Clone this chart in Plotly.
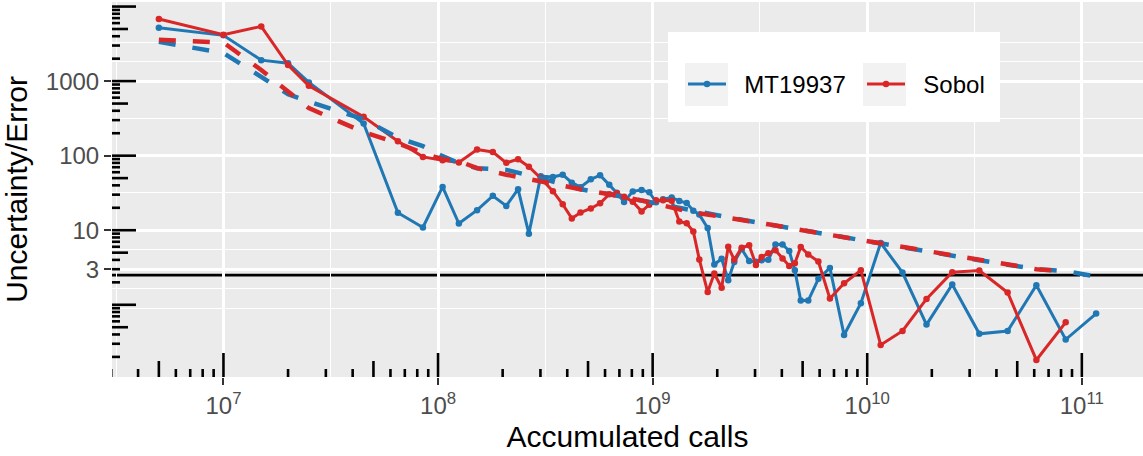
import numpy as np
import plotly.graph_objects as go

# accumulated calls at every iteration (shared by both generators)
calls = [5.0e6, 1.0e7, 1.5e7, 2.0e7, 2.5e7, 4.5e7, 6.5e7, 8.5e7, 1.05e8, 1.25e8,
         1.52e8, 1.8e8, 2.08e8, 2.36e8, 2.65e8, 3.01e8, 3.43e8, 3.81e8, 4.2e8, 4.61e8,
         5.15e8, 5.69e8, 6.28e8, 6.81e8, 7.36e8, 8.08e8, 8.88e8, 9.65e8, 1.037e9, 1.118e9,
         1.227e9, 1.331e9, 1.441e9, 1.547e9, 1.65e9, 1.805e9, 1.938e9, 2.097e9, 2.25e9, 2.4e9,
         2.6e9, 2.817e9, 3.03e9, 3.22e9, 3.46e9, 3.735e9, 4.03e9, 4.33e9, 4.6e9, 4.9e9,
         5.31e9, 5.92e9, 6.7e9, 7.8e9, 9.34e9, 1.155e10, 1.46e10, 1.889e10, 2.49e10, 3.33e10,
         4.51e10, 6.14e10, 8.41e10, 1.166e11]

mt19937 = [5190, 4110, 1910, 1740, 960, 270, 17.2, 10.9, 38.1, 12.3,
           18.6, 28.9, 21.2, 35.5, 9.0, 53.1, 51.9, 55.6, 43.4, 37.8,
           48.1, 54.7, 40.6, 31.7, 24.0, 33.2, 34.7, 32.4, 23.8, 26.1,
           27.5, 24.7, 23.2, 18.3, 16.2, 10.7, 3.47, 4.14, 2.13, 3.75,
           5.59, 3.86, 3.78, 3.96, 4.02, 6.43, 6.43, 5.26, 2.90, 1.14,
           1.14, 2.23, 3.12, 0.393, 1.05, 6.75, 2.71, 0.542, 1.87, 0.408,
           0.444, 1.83, 0.342, 0.762]

sobol = [6800, 4180, 5420, 1640, 865, 332, 156, 96.3, 87.0, 81.0,
         121, 112, 80.1, 89.8, 71.2, 49.9, 33.4, 22.3, 14.4, 17.3,
         19.6, 23.0, 30.4, 31.4, 28.2, 24.1, 17.9, 22.0, 25.3, 25.3,
         24.9, 13.1, 12.4, 9.63, 4.06, 1.48, 2.63, 1.69, 6.00, 4.02,
         5.82, 6.29, 3.43, 4.38, 4.91, 5.39, 4.17, 3.32, 3.61, 5.97,
         4.73, 3.80, 1.21, 1.94, 2.90, 0.289, 0.445, 1.20, 2.73, 2.88,
         1.46, 0.182, 0.582]

# expected-convergence curves (dashed)
trend_calls = [5e6, 1e7, 1.5e7, 2e7, 2.5e7, 4.5e7, 6.5e7, 8.5e7, 1.05e8, 1.25e8,
               1.52e8, 2.08e8, 3.01e8, 4.61e8, 6.28e8, 9.65e8, 1.441e9, 2.25e9, 3.46e9, 5.31e9,
               7.8e9, 1.155e10, 1.889e10, 3.33e10, 6.14e10, 8.41e10, 1.166e11]
mt19937_trend = [3370, 2380, 1140, 669, 529, 309, 174, 134, 98.4, 79.3,
                 68.0, 64.5, 49.9, 35.5, 30.4, 23.8, 18.6, 14.9, 12.0, 9.69,
                 8.05, 6.69, 5.14, 3.96, 3.0, 2.82, 2.4]
sobol_trend = [3600, 3290, 1410, 734, 434, 207, 147, 108, 89.8, 84.4,
               68.0, 55.6, 44.8, 35.5, 30.4, 23.8, 18.0, 14.9, 12.0, 9.69,
               8.05, 6.69, 5.14, 3.96, 3.0, 2.82]

target = 2.5

y_breaks = [3, 10, 100, 1000]
y_labels = ['3', '10', '100', '1000']
x_breaks = [1e7, 1e8, 1e9, 1e10, 1e11]
x_labels = ['10<sup>7</sup>', '10<sup>8</sup>', '10<sup>9</sup>', '10<sup>10</sup>', '10<sup>11</sup>']

colors = {
    'mt': '#1F77B4',
    'sobol': '#D92728',
    'panel': '#EBEBEB',
    'key': '#F2F2F2',
    'tick': '#333333',
    'ticktext': '#4D4D4D',
}
FONT = 'Liberation Sans, Arial, sans-serif'

W, H = 1143, 456
margin = dict(l=112, r=0, t=2, b=79)
pw = W - margin['l'] - margin['r']
ph = H - margin['t'] - margin['b']


def expanded(vals, mult=0.05):
    lo, hi = np.log10(min(vals)), np.log10(max(vals))
    pad = (hi - lo) * mult
    return [lo - pad, hi + pad]


x_range = expanded(calls)
y_range = expanded(mt19937 + sobol)


def minor_breaks(major_logs, lim):
    # ggplot's regular_minor_breaks in log space
    b = list(major_logs)
    bd = b[1] - b[0]
    if lim[0] < b[0]:
        b = [b[0] - bd] + b
    if lim[1] > b[-1]:
        b = b + [b[-1] + bd]
    out = []
    for a, c in zip(b[:-1], b[1:]):
        out += [a, (a + c) / 2]
    out.append(b[-1])
    out = [v for v in out if lim[0] <= v <= lim[1] and min(abs(v - m) for m in major_logs) > 1e-6]
    return [10 ** v for v in out]


y_minor = minor_breaks(np.log10(y_breaks), y_range)
x_minor = minor_breaks(np.log10(x_breaks), x_range)

pad = '\u00a0\u00a0'  # nudges legend text away from the key, as in ggplot

fig = go.Figure()
fig.add_trace(go.Scatter(x=calls, y=mt19937, mode='lines+markers', name=pad + 'MT19937',
                         line=dict(color=colors['mt'], width=3),
                         marker=dict(color=colors['mt'], size=6.5)))
fig.add_trace(go.Scatter(x=calls[:len(sobol)], y=sobol, mode='lines+markers', name=pad + 'Sobol',
                         line=dict(color=colors['sobol'], width=3),
                         marker=dict(color=colors['sobol'], size=6.5)))
fig.add_trace(go.Scatter(x=trend_calls, y=mt19937_trend, mode='lines', showlegend=False,
                         line=dict(color=colors['mt'], width=4.5, dash='17px,17px')))
fig.add_trace(go.Scatter(x=trend_calls[:len(sobol_trend)], y=sobol_trend, mode='lines',
                         showlegend=False,
                         line=dict(color=colors['sobol'], width=4.5, dash='17px,17px')))

shapes = [dict(type='line', xref='paper', x0=0, x1=1, yref='y', y0=target, y1=target,
               line=dict(color='black', width=2.6), layer='between')]

# annotation_logticks on left and bottom
for e in range(-3, 13):
    for m in range(1, 10):
        v = m * 10 ** e
        L = 24 if m == 1 else (16 if m == 5 else 8)
        lv = np.log10(v)
        if y_range[0] <= lv <= y_range[1]:
            shapes.append(dict(type='line', xref='x domain', x0=0, x1=L / pw, yref='y', y0=v, y1=v,
                               line=dict(color='black', width=2.6), layer='above'))
        if x_range[0] - 0.02 <= lv <= x_range[1]:
            shapes.append(dict(type='line', xref='x', x0=v, x1=v, yref='y domain', y0=0, y1=L / ph,
                               line=dict(color='black', width=2.6), layer='above'))


def px_x(p):
    return (p - margin['l']) / pw


def px_y(p):
    return (H - margin['b'] - p) / ph


# legend box and key backgrounds
shapes.append(dict(type='rect', xref='paper', yref='paper', x0=px_x(668), x1=px_x(1000),
                   y0=px_y(122), y1=px_y(32), fillcolor='white', line=dict(width=0), layer='above'))
for kx in (685, 863):
    shapes.append(dict(type='rect', xref='paper', yref='paper', x0=px_x(kx), x1=px_x(kx + 43),
                       y0=px_y(106), y1=px_y(63), fillcolor=colors['key'], line=dict(width=0),
                       layer='above'))

axis_common = dict(
    type='log', ticks='outside', ticklen=7, tickwidth=1.5, tickcolor=colors['tick'],
    tickfont=dict(size=24, color=colors['ticktext'], family=FONT),
    showgrid=True, gridcolor='white', gridwidth=2.7, zeroline=False, showline=False,
    automargin=False,
)

fig.update_layout(
    width=W, height=H, margin=margin,
    paper_bgcolor='white', plot_bgcolor=colors['panel'],
    font=dict(family=FONT, color='black'),
    shapes=shapes,
    xaxis=dict(axis_common, range=x_range, tickvals=x_breaks, ticktext=x_labels,
               minor=dict(tickvals=x_minor, showgrid=True, gridcolor='white', gridwidth=1.4, ticks=''),
               title=dict(text='Accumulated calls', font=dict(size=30, color='black'), standoff=8)),
    yaxis=dict(axis_common, range=y_range, tickvals=y_breaks, ticktext=y_labels,
               minor=dict(tickvals=y_minor, showgrid=True, gridcolor='white', gridwidth=1.4, ticks=''),
               title=dict(text='Uncertainty/Error', font=dict(size=30, color='black'), standoff=12)),
    legend=dict(orientation='h', x=px_x(683), y=px_y(84.5), xanchor='left', yanchor='middle',
                bgcolor='rgba(0,0,0,0)', font=dict(size=24, color='black', family=FONT),
                itemwidth=38, entrywidth=126, entrywidthmode='pixels'),
    showlegend=True,
)

fig.write_html("out.html", config={'displayModeBar': False},
               post_script="document.body.style.margin='0';document.body.style.overflow='hidden';")
